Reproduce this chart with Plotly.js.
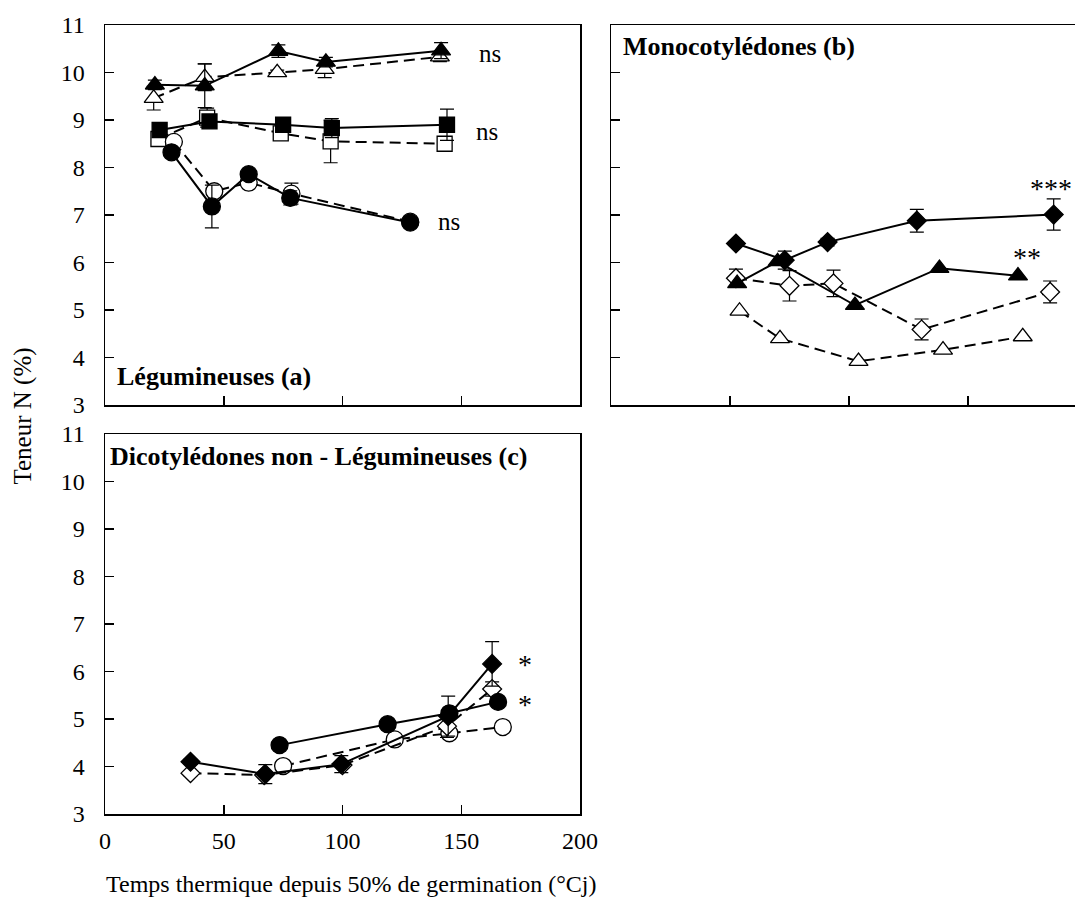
<!DOCTYPE html>
<html><head><meta charset="utf-8">
<script src="https://cdn.plot.ly/plotly-3.0.1.min.js"></script>
<style>html,body{margin:0;padding:0;overflow:hidden;background:#fff}</style>
</head><body><div id="chart" style="width:1090px;height:899px"></div>
<script>
// ---------- Panel (a) Légumineuses ----------
const aTriFX = [21, 42, 73, 93, 141.5];
const aTriFY = [9.74, 9.72, 10.45, 10.22, 10.46];
const aTriFE = [0.1, 0.46, 0.13, 0.1, 0.17];
const aTriOX = [20.5, 42, 72.5, 92.5, 141];
const aTriOY = [9.46, 9.9, 10.0, 10.07, 10.33];
const aTriOE = [0.25, 0.28, 0.05, 0.18, 0.1];
const aSqFX = [23, 44, 75, 95.5, 144];
const aSqFY = [8.79, 8.97, 8.9, 8.83, 8.9];
const aSqFE = [0.08, 0.1, 0.08, 0.2, 0.33];
const aSqOX = [22.5, 43, 74, 95, 143];
const aSqOY = [8.6, 9.05, 8.72, 8.55, 8.5];
const aSqOE = [0.08, 0.2, 0.05, 0.45, 0.1];
const aCiFX = [28, 45, 60.5, 78, 128.5];
const aCiFY = [8.32, 7.18, 7.86, 7.36, 6.84];
const aCiFE = [0.05, 0.45, 0.05, 0.15, 0.1];
const aCiOX = [29, 46, 60.5, 78.5, 128.5];
const aCiOY = [8.54, 7.5, 7.68, 7.45, 6.86];
const aCiOE = [0.05, 0.1, 0.05, 0.22, 0.05];

// ---------- Panel (b) Monocotylédones ----------
const bDiaFX = [52.5, 73, 91, 128.5, 186];
const bDiaFY = [6.4, 6.05, 6.43, 6.88, 7.01];
const bDiaFE = [0.05, 0.19, 0.08, 0.24, 0.33];
const bTriFX = [53, 70, 102.5, 138, 171];
const bTriFY = [5.56, 6.02, 5.1, 5.88, 5.72];
const bDiaOX = [52.5, 75, 93.5, 130.5, 184.5];
const bDiaOY = [5.67, 5.51, 5.56, 4.59, 5.38];
const bDiaOE = [0.19, 0.32, 0.28, 0.22, 0.23];
const bTriOX = [54, 71, 104, 139.5, 173];
const bTriOY = [4.98, 4.4, 3.92, 4.16, 4.44];

// ---------- Panel (c) Dicotylédones non-Légumineuses ----------
const cDiaFX = [36, 67.5, 99.5, 144.5, 163];
const cDiaFY = [4.1, 3.84, 4.05, 5.06, 6.16];
const cDiaFE = [0.05, 0.2, 0.18, 0.42, 0.47];
const cDiaOX = [36, 67, 100, 144, 163];
const cDiaOY = [3.86, 3.82, 4.03, 4.85, 5.63];
const cDiaOE = [0.05, 0.05, 0.05, 0.24, 0.15];
const cCiFX = [73.5, 119, 145, 165.5];
const cCiFY = [4.45, 4.89, 5.12, 5.36];
const cCiOX = [75, 122, 145, 167.5];
const cCiOY = [4.01, 4.57, 4.7, 4.83];

// significance labels
const sigText = ['ns', 'ns', 'ns', '**', '***', '*', '*'];
const sigPanel = ['', '', '', '2', '2', '3', '3'];
const sigX = [162, 161, 145, 174.7, 185, 176.8, 176.8];
const sigY = [10.41, 8.75, 6.87, 6.1, 7.55, 6.15, 5.3];

const panelTitles = ['Légumineuses (a)', 'Monocotylédones (b)', 'Dicotylédones non - Légumineuses (c)'];
const xTitle = 'Temps thermique depuis 50% de germination (°Cj)';
const yTitle = 'Teneur N (%)';
const xTickVals = [0, 50, 100, 150, 200];
const yTickVals = [3, 4, 5, 6, 7, 8, 9, 10, 11];

const W = 1090, H = 899;
const FONT = 'Liberation Serif, Times New Roman, serif';
const sizes = {'triangle-up': 16.5, 'circle': 17, 'square': 15, 'diamond': 14.5};

function tr(x, y, err, ax, symbol, filled, dashed) {
  const t = {
    type: 'scatter', mode: 'lines+markers', x: x, y: y,
    xaxis: 'x' + ax, yaxis: 'y' + ax,
    line: {color: 'black', width: 2, dash: dashed ? '11px,6px' : 'solid'},
    marker: {symbol: symbol, size: sizes[symbol], color: filled ? 'black' : 'white',
             line: {color: 'black', width: 1.3}},
    showlegend: false, hoverinfo: 'skip'
  };
  if (err) t.error_y = {type: 'data', array: err, visible: true, color: 'black', thickness: 1.2, width: 7};
  return t;
}

const data = [
  tr(aTriOX, aTriOY, aTriOE, '', 'triangle-up', false, true),
  tr(aTriFX, aTriFY, aTriFE, '', 'triangle-up', true, false),
  tr(aSqOX, aSqOY, aSqOE, '', 'square', false, true),
  tr(aSqFX, aSqFY, aSqFE, '', 'square', true, false),
  tr(aCiOX, aCiOY, aCiOE, '', 'circle', false, true),
  tr(aCiFX, aCiFY, aCiFE, '', 'circle', true, false),
  tr(bTriOX, bTriOY, null, '2', 'triangle-up', false, true),
  tr(bDiaOX, bDiaOY, bDiaOE, '2', 'diamond', false, true),
  tr(bTriFX, bTriFY, null, '2', 'triangle-up', true, false),
  tr(bDiaFX, bDiaFY, bDiaFE, '2', 'diamond', true, false),
  tr(cCiOX, cCiOY, null, '3', 'circle', false, true),
  tr(cDiaOX, cDiaOY, cDiaOE, '3', 'diamond', false, true),
  tr(cCiFX, cCiFY, null, '3', 'circle', true, false),
  tr(cDiaFX, cDiaFY, cDiaFE, '3', 'diamond', true, false)
];

function xax(l, r, anchor, labels) {
  return {domain: [l / W, r / W], range: [0, 200], anchor: anchor,
    showline: true, mirror: true, linecolor: 'black', linewidth: 1.5,
    ticks: 'inside', ticklen: 9, tickwidth: 1.5, tickcolor: 'black',
    tickvals: labels ? xTickVals : [50, 100, 150], showticklabels: labels,
    ticklabelstandoff: 5,
    tickfont: {family: FONT, size: 24, color: 'black'},
    showgrid: false, zeroline: false, fixedrange: true};
}
function yax(top, bot, anchor, labels) {
  return {domain: [1 - bot / H, 1 - top / H], range: [3, 11], anchor: anchor,
    showline: true, mirror: true, linecolor: 'black', linewidth: 1.5,
    ticks: 'inside', ticklen: 9, tickwidth: 1.5, tickcolor: 'black',
    tickvals: yTickVals, showticklabels: labels,
    ticklabelstandoff: 14,
    tickfont: {family: FONT, size: 24, color: 'black'},
    showgrid: false, zeroline: false, fixedrange: true};
}

const annotations = [];
const ptPos = [[0.021, 0.076, ''], [0.02, 0.943, '2'], [0.006, 0.94, '3']];
panelTitles.forEach((t, i) => {
  const ax = ptPos[i][2];
  annotations.push({text: '<b>' + t + '</b>', xref: 'x' + ax + ' domain', yref: 'y' + ax + ' domain',
    x: ptPos[i][0], y: ptPos[i][1], xanchor: 'left', yanchor: 'middle', showarrow: false,
    font: {family: FONT, size: 26, color: 'black'}});
});
sigText.forEach((t, i) => {
  const ax = sigPanel[i];
  annotations.push({text: t, xref: 'x' + ax, yref: 'y' + ax, x: sigX[i], y: sigY[i],
    xanchor: 'center', yanchor: 'middle', showarrow: false, borderpad: 0,
    font: {family: FONT, size: t === 'ns' ? 25 : 28, color: '#000000'}});
});
annotations.push({text: xTitle, xref: 'paper', yref: 'paper', x: 351 / W, y: 1 - 884 / H,
  xanchor: 'center', yanchor: 'middle', showarrow: false, font: {family: FONT, size: 24, color: 'black'}});
annotations.push({text: yTitle, xref: 'paper', yref: 'paper', x: 22 / W, y: 1 - 416.5 / H,
  xanchor: 'center', yanchor: 'middle', textangle: -90, showarrow: false, font: {family: FONT, size: 25, color: 'black'}});

const layout = {
  width: W, height: H,
  margin: {l: 0, r: 0, t: 0, b: 0},
  paper_bgcolor: 'white', plot_bgcolor: 'white',
  font: {family: FONT, color: 'black'},
  xaxis: xax(105, 580, 'y', false),
  yaxis: yax(25, 405, 'x', true),
  xaxis2: xax(611, 1087, 'y2', false),
  yaxis2: yax(25, 405, 'x2', false),
  xaxis3: xax(105, 580, 'y3', true),
  yaxis3: yax(434, 814, 'x3', true),
  annotations: annotations,
  showlegend: false
};

Plotly.newPlot('chart', data, layout, {displayModeBar: false, staticPlot: true});
</script></body></html>
